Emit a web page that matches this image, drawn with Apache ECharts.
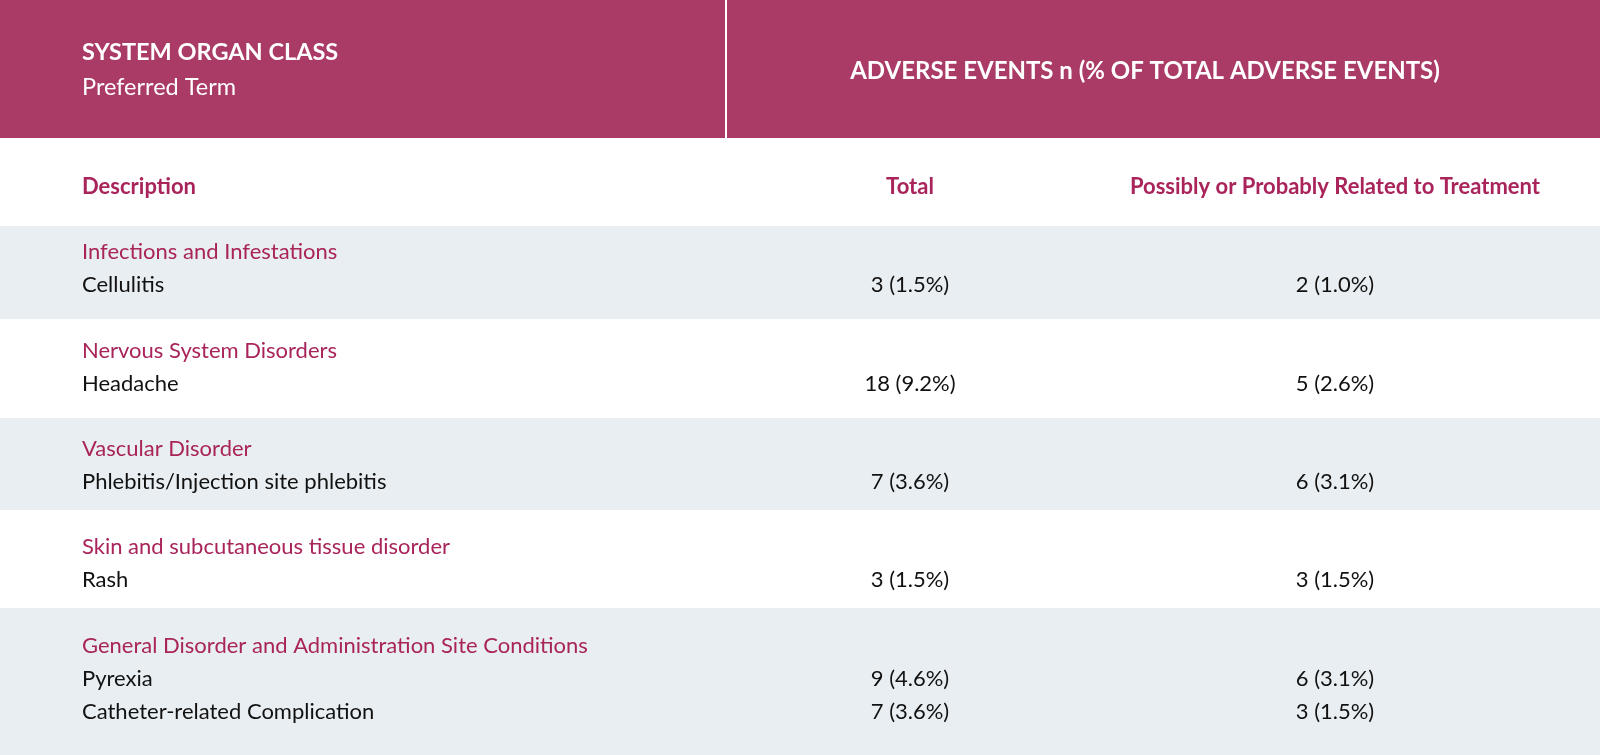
<!DOCTYPE html>
<html>
<head>
<meta charset="utf-8">
<script src="https://cdn.jsdelivr.net/npm/echarts@6/dist/echarts.min.js"></script>
<style>
  html, body { margin: 0; padding: 0; background: #fff; }
  #chart { width: 1600px; height: 755px; }
</style>
</head>
<body>
<div id="chart"></div>
<script>
  // table content
  const headerTitle = "SYSTEM ORGAN CLASS";
  const headerSub = "Preferred Term";
  const headerRight = "ADVERSE EVENTS n (% OF TOTAL ADVERSE EVENTS)";
  const columnHeaders = ["Description", "Total", "Possibly or Probably Related to Treatment"];
  const socClasses = [
    "Infections and Infestations",
    "Nervous System Disorders",
    "Vascular Disorder",
    "Skin and subcutaneous tissue disorder",
    "General Disorder and Administration Site Conditions"
  ];
  const preferredTerms = ["Cellulitis", "Headache", "Phlebitis/Injection site phlebitis", "Rash", "Pyrexia", "Catheter-related Complication"];
  const termClass = [0, 1, 2, 3, 4, 4];
  const totalN = [3, 18, 7, 3, 9, 7];
  const totalPct = [1.5, 9.2, 3.6, 1.5, 4.6, 3.6];
  const relatedN = [2, 5, 6, 3, 6, 3];
  const relatedPct = [1.0, 2.6, 3.1, 1.5, 3.1, 1.5];

  // layout (table units = px on the axes)
  const W = 1600, H = 755;
  const headerBottom = 138;
  const dividerX = 726;
  const bandTops = [226, 319, 418, 510, 608, 755];
  const firstLine = [26, 32, 31, 37, 38];
  const lineGap = 33;
  const colX = [82, 910, 1335];

  const FONT = "Lato, 'Open Sans', sans-serif";
  const MAGENTA = "#a8245a";
  const HEAD_BG = "#aa3a66";
  const BAND = "#e9eef2";

  function txt(api, x, y, text, opts) {
    const p = api.coord([x, y]);
    return {
      type: "text",
      style: Object.assign({
        text: text, x: p[0], y: p[1],
        fontFamily: FONT, fontSize: 22, fill: "#111",
        align: "left", verticalAlign: "middle"
      }, opts || {})
    };
  }

  const chart = echarts.init(document.getElementById("chart"));
  chart.setOption({
    animation: false,
    grid: { left: 0, right: 0, top: 0, bottom: 0 },
    xAxis: { type: "value", min: 0, max: W, show: false },
    yAxis: { type: "value", min: 0, max: H, inverse: true, show: false },
    series: [
      {
        // header block
        type: "custom",
        silent: true,
        data: [[0]],
        renderItem: function (params, api) {
          const a = api.coord([0, 0]);
          const b = api.coord([W, headerBottom]);
          const d0 = api.coord([dividerX, 0]);
          return {
            type: "group",
            children: [
              { type: "rect", shape: { x: a[0], y: a[1], width: b[0] - a[0], height: b[1] - a[1] }, style: { fill: HEAD_BG } },
              { type: "rect", shape: { x: d0[0] - 1, y: a[1], width: 2, height: b[1] - a[1] }, style: { fill: "#fff" } },
              txt(api, colX[0], 52, headerTitle, { fill: "#fff", fontWeight: "bold", fontSize: 23.5 }),
              txt(api, colX[0], 87, headerSub, { fill: "#fff", fontSize: 23.5 }),
              txt(api, 1145, 71, headerRight, { fill: "#fff", fontWeight: "bold", fontSize: 24, align: "center" }),
              txt(api, colX[0], 187, columnHeaders[0], { fill: MAGENTA, fontWeight: "bold" }),
              txt(api, colX[1], 187, columnHeaders[1], { fill: MAGENTA, fontWeight: "bold", align: "center" }),
              txt(api, colX[2], 187, columnHeaders[2], { fill: MAGENTA, fontWeight: "bold", align: "center" })
            ]
          };
        }
      },
      {
        // alternating bands, one per system organ class
        type: "custom",
        silent: true,
        data: socClasses.map(function (s, i) { return [i]; }),
        renderItem: function (params, api) {
          const i = api.value(0);
          const a = api.coord([0, bandTops[i]]);
          const b = api.coord([W, bandTops[i + 1]]);
          return {
            type: "rect",
            shape: { x: a[0], y: a[1], width: b[0] - a[0], height: b[1] - a[1] },
            style: { fill: i % 2 === 0 ? BAND : "#fff" }
          };
        }
      },
      {
        // text lines
        type: "custom",
        silent: true,
        data: preferredTerms.map(function (t, i) { return [i]; }),
        renderItem: function (params, api) {
          const i = api.value(0);
          const c = termClass[i];
          const pos = termClass.indexOf(c);
          const rank = i - pos;
          const y0 = bandTops[c] + firstLine[c];
          const y = y0 + (rank + 1) * lineGap;
          const kids = [];
          if (rank === 0) kids.push(txt(api, colX[0], y0, socClasses[c], { fill: MAGENTA }));
          kids.push(txt(api, colX[0], y, preferredTerms[i]));
          kids.push(txt(api, colX[1], y, totalN[i] + " (" + totalPct[i].toFixed(1) + "%)", { align: "center" }));
          kids.push(txt(api, colX[2], y, relatedN[i] + " (" + relatedPct[i].toFixed(1) + "%)", { align: "center" }));
          return { type: "group", children: kids };
        }
      }
    ]
  });
</script>
</body>
</html>
